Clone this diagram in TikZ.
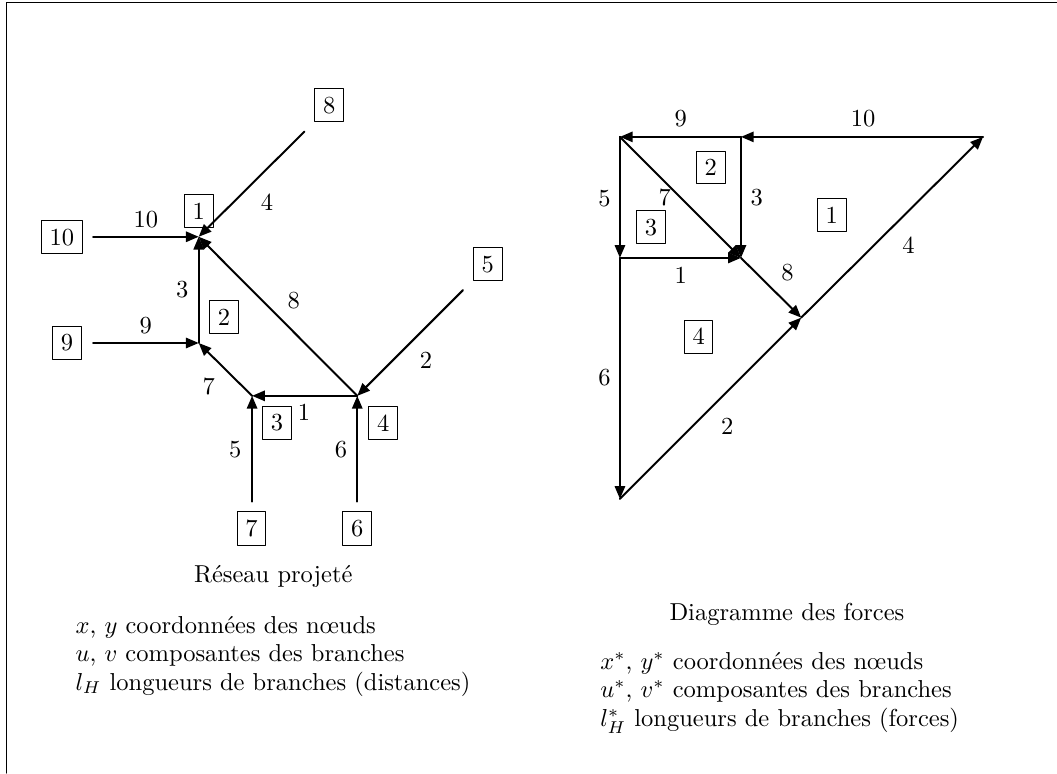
\documentclass[tikz,border=0pt]{standalone}
\usepackage{tikz}
\usetikzlibrary{arrows.meta}
\tikzset{
  boxnum/.style={draw},
  branch/.style={thick,->},
  legend/.style={anchor=base west,inner sep=0pt},
  titre/.style={anchor=base}
}
\begin{document}
\begin{tikzpicture}[line cap=round,line join=round,>={Triangle[length=5.2pt,width=4.2pt]},x=0.758cm,y=0.758cm]
\useasboundingbox (0,0) rectangle (20,14.63);
\draw (0.125,0)--(0.125,14.58)--(20,14.58);
% reseau projete
\coordinate (n1) at (3.76,10.15);
\coordinate (n2) at (3.76,8.14);
\coordinate (n3) at (4.77,7.14);
\coordinate (n4) at (6.76,7.14);
\coordinate (e10) at (1.76,10.15);
\coordinate (e9) at (1.76,8.14);
\coordinate (e8) at (5.76,12.14);
\coordinate (e5) at (8.76,9.14);
\coordinate (e7) at (4.77,5.14);
\coordinate (e6) at (6.76,5.14);
\draw[branch] (e10)--(n1);
\draw[branch] (e9)--(n2);
\draw[branch] (n2)--(n1);
\draw[branch] (e8)--(n1);
\draw[branch] (n4)--(n1);
\draw[branch] (n3)--(n2);
\draw[branch] (n4)--(n3);
\draw[branch] (e5)--(n4);
\draw[branch] (e7)--(n3);
\draw[branch] (e6)--(n4);
\node[boxnum] (b1) at (3.76,10.64) {1};
\node[boxnum] (b2) at (4.24,8.63) {2};
\node[boxnum] (b3) at (5.24,6.63) {3};
\node[boxnum] (b4) at (7.25,6.63) {4};
\node[boxnum] (b5) at (9.23,9.63) {5};
\node[boxnum] (b6) at (6.76,4.63) {6};
\node[boxnum] (b7) at (4.76,4.63) {7};
\node[boxnum] (b8) at (6.23,12.64) {8};
\node[boxnum] (b9) at (1.27,8.14) {9};
\node[boxnum] (b10) at (1.17,10.14) {10};
\node (l10) at (2.76,10.47) {10};
\node (l9) at (2.76,8.46) {9};
\node (l4) at (5.05,10.81) {4};
\node (l3) at (3.45,9.15) {3};
\node (l8) at (5.56,8.95) {8};
\node (l2) at (8.06,7.82) {2};
\node (l7) at (3.95,7.31) {7};
\node (l1) at (5.75,6.83) {1};
\node (l5) at (4.45,6.13) {5};
\node (l6) at (6.45,6.13) {6};
\node[titre] (t1) at (5.17,3.6) {R\'eseau projet\'e};
\node[legend] (s1) at (1.42,2.65) {$x$, $y$ coordonn\'ees des n\oe uds};
\node[legend] (s2) at (1.42,2.11) {$u$, $v$ composantes des branches};
\node[legend] (s3) at (1.42,1.57) {$l_H$ longueurs de branches (distances)};
% diagramme des forces
\coordinate (a) at (11.73,12.04);
\coordinate (b) at (14.02,12.04);
\coordinate (c) at (18.6,12.04);
\coordinate (d) at (11.73,9.75);
\coordinate (e) at (14.02,9.75);
\coordinate (f) at (15.16,8.62);
\coordinate (g) at (11.73,5.19);
\draw[branch] (c)--(b);
\draw[branch] (b)--(a);
\draw[branch] (a)--(d);
\draw[branch] (d)--(g);
\draw[branch] (d)--(e);
\draw[branch] (b)--(e);
\draw[branch] (a)--(e);
\draw[branch] (e)--(f);
\draw[branch] (g)--(f);
\draw[branch] (f)--(c);
\node[boxnum] (c1) at (15.74,10.56) {1};
\node[boxnum] (c2) at (13.45,11.46) {2};
\node[boxnum] (c3) at (12.32,10.33) {3};
\node[boxnum] (c4) at (13.22,8.26) {4};
\node (m9) at (12.88,12.38) {9};
\node (m10) at (16.33,12.38) {10};
\node (m5) at (11.44,10.88) {5};
\node (m3) at (14.32,10.9) {3};
\node (m7) at (12.58,10.9) {7};
\node (m4) at (17.19,9.99) {4};
\node (m1) at (12.88,9.42) {1};
\node (m8) at (14.9,9.48) {8};
\node (m6) at (11.44,7.48) {6};
\node (m2) at (13.76,6.57) {2};
\node[titre] (t2) at (14.89,2.895) {Diagramme des forces};
\node[legend] (u1) at (11.35,1.97) {$x^*$, $y^*$ coordonn\'ees des n\oe uds};
\node[legend] (u2) at (11.35,1.43) {$u^*$, $v^*$ composantes des branches};
\node[legend] (u3) at (11.35,0.88) {$l_H^*$ longueurs de branches (forces)};
\end{tikzpicture}
\end{document}
